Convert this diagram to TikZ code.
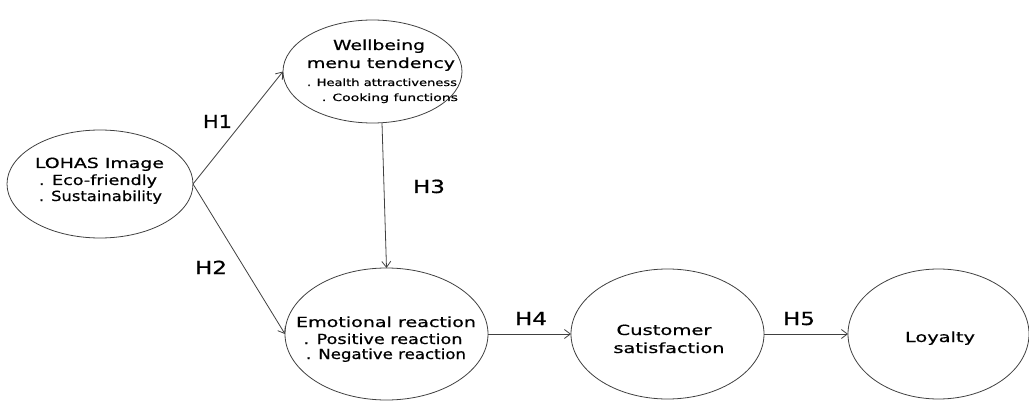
\documentclass[tikz,border=0pt]{standalone}
\usepackage{fontspec}
\setmainfont{DejaVu Sans}[FakeBold=0.6]
\usepackage{graphicx}
\usetikzlibrary{shapes.geometric,arrows.meta}
\newcommand\fw[2]{\resizebox{#1pt}{\height}{#2}}
\tikzset{
  oval/.style={ellipse,draw=black!75,line width=0.8pt,inner sep=0pt,outer sep=0pt},
  txt/.style={anchor=base,inner sep=0pt,font=\fontsize{14}{16}\selectfont},
  smalltxt/.style={anchor=base,inner sep=0pt,font=\fontsize{10}{12}\selectfont},
  hyp/.style={anchor=base,inner sep=0pt,font=\fontsize{18}{20}\selectfont},
  link/.style={draw=black!75,line width=0.8pt,-{Straight Barb[length=6pt,width=9pt]}}
}
\begin{document}
\begin{tikzpicture}[x=1pt,y=-1pt]
\useasboundingbox (0,0) rectangle (1029,401);
% ellipses
\node[oval,minimum width=186pt,minimum height=108pt] (lohas) at (100,184) {};
\node[oval,minimum width=179pt,minimum height=103pt] (well) at (372.5,71.5) {};
\node[oval,minimum width=203pt,minimum height=132pt] (emo) at (386.5,334) {};
\node[oval,minimum width=193pt,minimum height=130pt] (cust) at (667.5,334) {};
\node[oval,minimum width=181pt,minimum height=130pt] (loy) at (938.5,334) {};
% texts
\node[txt] (t1) at (99.5,168) {\fw{129}{LOHAS Image}};
\node[txt] (t2) at (98,185) {\fw{118}{. Eco-friendly}};
\node[txt] (t3) at (100.5,201) {\fw{123}{. Sustainability}};
\node[txt] (w1) at (379,50) {\fw{92}{Wellbeing}};
\node[txt] (w2) at (381,68) {\fw{148}{menu tendency}};
\node[smalltxt] (w3) at (382,86) {\fw{150}{. Health attractiveness}};
\node[smalltxt] (w4) at (390,101) {\fw{136}{. Cooking functions}};
\node[txt] (e1) at (386,327) {\fw{180}{Emotional reaction}};
\node[txt] (e2) at (383,344) {\fw{159}{. Positive reaction}};
\node[txt] (e3) at (386,359) {\fw{160}{. Negative reaction}};
\node[txt] (c1) at (664,335) {\fw{95}{Customer}};
\node[txt] (c2) at (669,353) {\fw{111}{satisfaction}};
\node[txt] (l1) at (940,342) {\fw{70}{Loyalty}};
% hypothesis labels
\node[hyp] (h1) at (217.5,128) {\fw{29}{H1}};
\node[hyp] (h2) at (211,274) {\fw{32}{H2}};
\node[hyp] (h3) at (429,193) {\fw{32}{H3}};
\node[hyp] (h4) at (531,325) {\fw{32}{H4}};
\node[hyp] (h5) at (799,325) {\fw{32}{H5}};
% connectors
\draw[link] (lohas.east) -- (well.west);
\draw[link] (lohas.east) -- (emo.west);
\draw[link] ([xshift=9.5pt]well.south) -- (emo.north);
\draw[link] (emo.east) -- (cust.west);
\draw[link] (cust.east) -- (loy.west);
\end{tikzpicture}
\end{document}
